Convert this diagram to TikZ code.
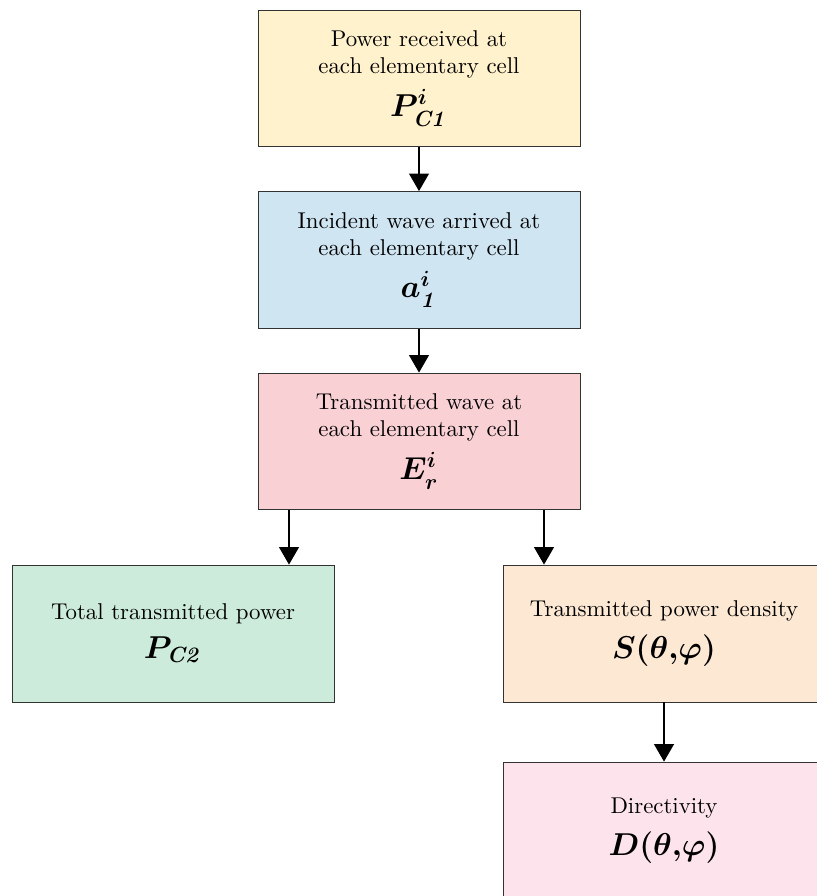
\documentclass[tikz,border=0pt]{standalone}
\usepackage{amsmath, amssymb}
\usepackage{tikz}
\usetikzlibrary{arrows.meta, positioning}
\usepackage{xcolor}
\definecolor{cellyellow}{HTML}{FFF2CC}
\definecolor{cellblue}{HTML}{CFE5F2}
\definecolor{cellred}{HTML}{F9D0D4}
\definecolor{cellgreen}{HTML}{CCEBDB}
\definecolor{cellorange}{HTML}{FCE8D3}
\definecolor{cellpink}{HTML}{FDE3EC}
\newcommand{\cellmath}[1]{{\fontsize{14}{16}\selectfont $\boldsymbol{#1}$}}
\tikzset{
	block/.style={draw=black!80, minimum width=5.15cm, minimum height=2.19cm, align=center,
		font=\fontsize{10.4}{12.4}\selectfont},
	flow/.style={-{Triangle[width=9pt,length=8pt]}, line width=0.9pt}
}

\begin{document}
\begin{tikzpicture}
		\useasboundingbox (0,0) rectangle (13.056,-14.336);
		
		\node[block, fill=cellyellow] (rx) at (6.704,-1.256) {Power received at \\ each elementary cell \\[4pt] \cellmath{P^{i}_{\mathit{C1}}}};
		
		\node[block, fill=cellblue] (incident) at (6.704,-4.16) {Incident wave arrived at \\ each elementary cell \\[4pt] \cellmath{a^{i}_{\mathit{1}}}};
		
		\node[block, fill=cellred] (trans) at (6.704,-7.064) {Transmitted wave at \\ each elementary cell \\[4pt] \cellmath{E^{i}_{r}}};
		
		\node[block, fill=cellgreen] (total) at (2.768,-10.136) {Total transmitted power \\[5pt] \cellmath{P_{\mathit{C2}}}};
		
		\node[block, fill=cellorange] (density) at (10.624,-10.136) {Transmitted power density \\[5pt] \cellmath{S\mathit{(}\theta\mathit{,}\varphi\mathit{)}}};
		
		\node[block, fill=cellpink] (direct) at (10.624,-13.288) {Directivity \\[5pt] \cellmath{D\mathit{(}\theta\mathit{,}\varphi\mathit{)}}};
		
		\draw[flow] (rx.south) -- (incident.north);
		\draw[flow] (incident.south) -- (trans.north);
		
		\draw[flow] ([xshift=-2.08cm]trans.south) -- ([xshift=-2.08cm]trans.south |- total.north);
		\draw[flow] ([xshift=2cm]trans.south) -- ([xshift=2cm]trans.south |- density.north);
		
		\draw[flow] (density.south) -- (direct.north);
	\end{tikzpicture}
\end{document}
